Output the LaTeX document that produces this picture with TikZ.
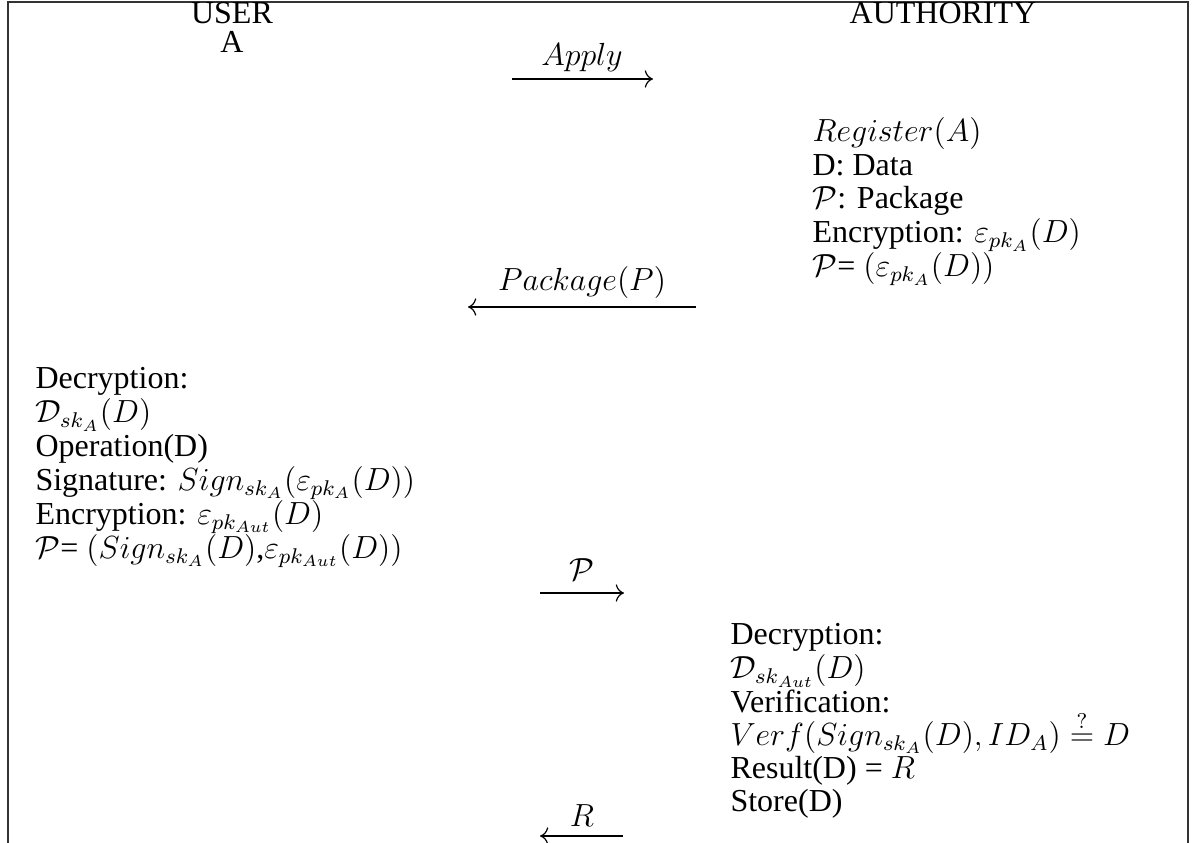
\documentclass[tikz,border=0pt]{standalone}
\usepackage{fontspec}
\setmainfont{Liberation Serif}
\usetikzlibrary{arrows.meta}
\begin{document}
\begin{tikzpicture}[x=0.375pt,y=-0.375pt,
  txt/.style={inner sep=0pt, font=\fontsize{12}{12.5}\selectfont},
  lbl/.style={txt, anchor=base},
  blk/.style={txt, anchor=base west},
  msg/.style={line width=0.45pt, -{Computer Modern Rightarrow[scale=1.2]}},
  frame/.style={line width=0.75pt, draw=black!80}]
\useasboundingbox (0,0) rectangle (1192,843);
% open frame: top rule and two side rules
\coordinate (fbl) at (8,843);
\coordinate (ftl) at (8,2);
\coordinate (ftr) at (1188,2);
\coordinate (fbr) at (1188,843);
\draw[frame] (fbl) -- (ftl) -- (ftr) -- (fbr);

% parties
\node[lbl] (user) at (232,24) {USER};
\node[lbl] (usera) at (232,53) {A};
\node[lbl] (auth) at (943,24) {AUTHORITY};

% authority: registration
\node[blk] (reg) at (812,142) {\begin{tabular}[t]{@{}l@{}}
$Register(A)$\\
D: Data\\
$\mathcal{P}$: Package\\
Encryption: $\varepsilon_{pk_A}(D)$\\
$\mathcal{P}$= $(\varepsilon_{pk_A}(D))$
\end{tabular}};

% user: processing
\node[blk] (usr) at (35,389) {\begin{tabular}[t]{@{}l@{}}
Decryption:\\
$\mathcal{D}_{sk_A}(D)$\\
Operation(D)\\
Signature: $Sign_{sk_A}(\varepsilon_{pk_A}(D))$\\
Encryption: $\varepsilon_{pk_{Aut}}(D)$\\
$\mathcal{P}$= $(Sign_{sk_A}(D)$,$\varepsilon_{pk_{Aut}}(D))$
\end{tabular}};

% authority: verification
\node[blk] (ver) at (730,645) {\begin{tabular}[t]{@{}l@{}}
Decryption:\\
$\mathcal{D}_{sk_{Aut}}(D)$\\
Verification:\\[-4.3pt]
$Verf(Sign_{sk_A}(D), ID_A) \stackrel{?}{=} D$\\
Result(D) = $R$\\
Store(D)
\end{tabular}};

% messages
\coordinate (m1s) at (512,79);  \coordinate (m1e) at (653,79);
\coordinate (m2s) at (696,307); \coordinate (m2e) at (468,307);
\coordinate (m3s) at (540,593); \coordinate (m3e) at (624,593);
\coordinate (m4s) at (623,836); \coordinate (m4e) at (540,836);

\node[lbl] (l1) at (582,66) {$Apply$};
\node[lbl] (l2) at (582,291) {$Package(P)$};
\node[lbl] (l3) at (582,581) {$\mathcal{P}$};
\node[lbl] (l4) at (582,826) {$R$};

\draw[msg] (m1s) -- (m1e);
\draw[msg] (m2s) -- (m2e);
\draw[msg] (m3s) -- (m3e);
\draw[msg] (m4s) -- (m4e);
\end{tikzpicture}
\end{document}
